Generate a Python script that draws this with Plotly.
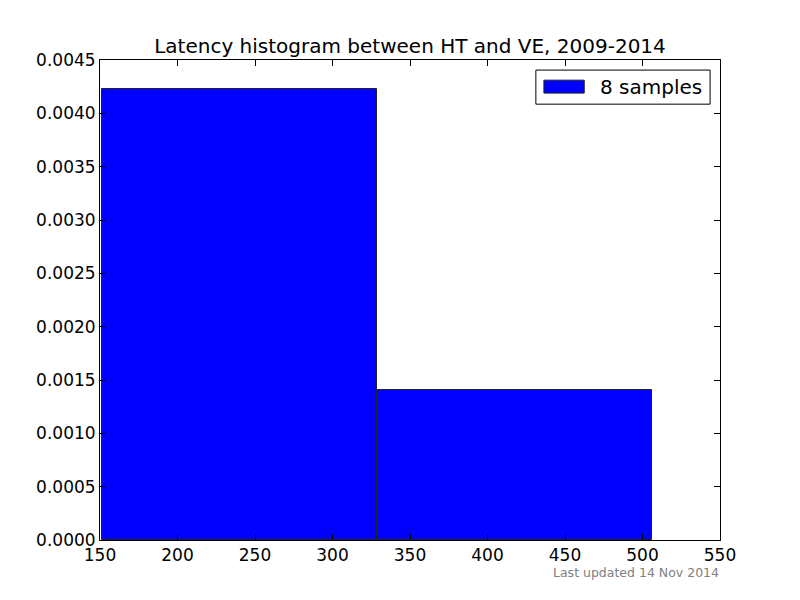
import plotly.graph_objects as go

bin_edges = [151, 328.5, 506]
counts = [6, 2]
n_samples = 8
x_ticks = [150, 200, 250, 300, 350, 400, 450, 500, 550]
y_ticks = [0, 0.0005, 0.0010, 0.0015, 0.0020, 0.0025, 0.0030, 0.0035, 0.0040, 0.0045]

centers = [(bin_edges[i] + bin_edges[i + 1]) / 2 for i in range(len(counts))]
widths = [bin_edges[i + 1] - bin_edges[i] for i in range(len(counts))]
density = [c / (n_samples * w) for c, w in zip(counts, widths)]

fig = go.Figure()
fig.add_trace(go.Bar(
    x=centers, y=density, width=widths,
    marker=dict(color="#0000ff", line=dict(color="#222222", width=1)),
    name=f"{n_samples} samples", showlegend=False,
))

axis_common = dict(
    showgrid=False, zeroline=False, showline=True, linecolor="black", linewidth=1,
    mirror="ticks", ticks="inside", ticklen=6, tickcolor="black",
    tickfont=dict(family="DejaVu Sans", size=17, color="black"),
)
fig.update_xaxes(range=[150, 550], tickvals=x_ticks,
                 ticktext=[str(v) for v in x_ticks], **axis_common)
fig.update_yaxes(range=[0, 0.0045], tickvals=y_ticks,
                 ticktext=[f"{v:.4f}" for v in y_ticks], **axis_common)

legend_shapes = [
    dict(type="rect", xref="paper", yref="paper", x0=0.703, x1=0.984, y0=0.908, y1=0.979,
         line=dict(color="black", width=1), fillcolor="white", layer="above"),
    dict(type="rect", xref="paper", yref="paper", x0=0.716, x1=0.781, y0=0.931, y1=0.958,
         line=dict(color="#222222", width=1), fillcolor="#0000ff", layer="above"),
]

fig.update_layout(
    width=800, height=600,
    margin=dict(l=92, r=88, t=52, b=68),
    paper_bgcolor="white", plot_bgcolor="white",
    bargap=0,
    showlegend=False,
    shapes=legend_shapes,
    title=dict(text="Latency histogram between HT and VE, 2009-2014",
               x=0.5, xanchor="center", xref="paper", y=1 - 38 / 600, yanchor="middle",
               font=dict(family="DejaVu Sans", size=20, color="black")),
    annotations=[
        dict(text=f"{n_samples} samples", xref="paper", yref="paper",
             x=0.803, y=0.944, xanchor="left", yanchor="middle", showarrow=False,
             font=dict(family="DejaVu Sans", size=20, color="black")),
        dict(text="Last updated 14 Nov 2014", xref="paper", yref="paper",
             x=1.002, y=-0.068, xanchor="right", yanchor="middle", showarrow=False,
             font=dict(family="DejaVu Sans", size=12.5, color="#808080")),
    ],
)

fig.write_html("out.html")
